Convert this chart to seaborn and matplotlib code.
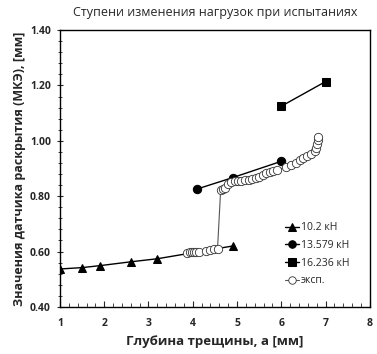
import matplotlib
matplotlib.use('Agg')
import matplotlib.pyplot as plt
from matplotlib.ticker import MultipleLocator
import seaborn as sns
import pandas as pd

# series
x_102 = [1.0, 1.5, 1.9, 2.6, 3.2, 4.9]
y_102 = [0.537, 0.542, 0.549, 0.563, 0.574, 0.620]

x_135 = [4.1, 4.9, 6.0]
y_135 = [0.826, 0.867, 0.926]

x_162 = [6.0, 7.0]
y_162 = [1.125, 1.214]

x_exp = [3.88, 3.93, 3.98, 4.03, 4.08, 4.13, 4.30, 4.38, 4.47, 4.56,
         4.63, 4.68, 4.73, 4.80, 4.87, 4.95, 5.03, 5.10, 5.18, 5.26,
         5.34, 5.42, 5.50, 5.58, 5.66, 5.74, 5.82, 5.90, 6.10, 6.22,
         6.34, 6.42, 6.50, 6.58, 6.66, 6.76, 6.79, 6.80, 6.82, 6.83]
y_exp = [0.596, 0.597, 0.597, 0.597, 0.598, 0.598, 0.602, 0.605, 0.608, 0.611,
         0.822, 0.826, 0.830, 0.845, 0.851, 0.854, 0.855, 0.856, 0.858, 0.860,
         0.862, 0.865, 0.870, 0.876, 0.882, 0.886, 0.890, 0.894, 0.905, 0.912,
         0.920, 0.930, 0.938, 0.945, 0.952, 0.962, 0.975, 0.990, 1.002, 1.014]

labels = ['10.2 кН', '13.579 кН', '16.236 кН', 'эксп.']

sns.set_style('ticks')
plt.rcParams['font.family'] = ['Open Sans', 'DejaVu Sans']

fig = plt.figure(figsize=(3.77, 3.54), dpi=100)
ax = fig.add_axes([0.159, 0.133, 0.822, 0.782])

sns.lineplot(x=x_102, y=y_102, ax=ax, color='black', lw=1, marker='^',
             markersize=6, markeredgecolor='black', label=labels[0], estimator=None)
sns.lineplot(x=x_135, y=y_135, ax=ax, color='black', lw=1, marker='o',
             markersize=6, markeredgecolor='black', label=labels[1], estimator=None)
sns.lineplot(x=x_162, y=y_162, ax=ax, color='black', lw=1, marker='s',
             markersize=6, markeredgecolor='black', label=labels[2], estimator=None)
sns.lineplot(x=x_exp, y=y_exp, ax=ax, color='#555555', lw=0.8, marker='o',
             markersize=6, markerfacecolor='white', markeredgecolor='#333333',
             markeredgewidth=0.6, label=labels[3], estimator=None, sort=False)

ax.set_xlim(1, 8)
ax.set_ylim(0.4, 1.4)
ax.xaxis.set_major_locator(MultipleLocator(1))
ax.xaxis.set_minor_locator(MultipleLocator(0.2))
ax.yaxis.set_major_locator(MultipleLocator(0.2))
ax.yaxis.set_minor_locator(MultipleLocator(0.04))
ax.yaxis.set_major_formatter(plt.FormatStrFormatter('%.2f'))
ax.tick_params(axis='x', which='both', direction='in', labelsize=7.5, pad=8)
ax.tick_params(axis='x', which='major', length=4, width=0.8)
ax.tick_params(axis='x', which='minor', length=3, width=0.6)
ax.tick_params(axis='y', which='both', direction='inout', labelsize=7.5, pad=4)
ax.tick_params(axis='y', which='major', length=5, width=0.8)
ax.tick_params(axis='y', which='minor', length=3, width=0.6)
for lbl in ax.get_xticklabels() + ax.get_yticklabels():
    lbl.set_fontweight('bold')
for sp in ax.spines.values():
    sp.set_color('black')
    sp.set_linewidth(1)

ax.set_title('Ступени изменения нагрузок при испытаниях', fontsize=9, pad=10)
ax.set_xlabel('Глубина трещины, а [мм]', fontsize=9.5, fontweight='bold', labelpad=4)
ax.set_ylabel('Значения датчика раскрытия (МКЭ), [мм]', fontsize=9,
              fontweight='bold', labelpad=3)

ax.legend(loc='lower right', bbox_to_anchor=(0.965, 0.04), frameon=False,
          fontsize=7.5, handlelength=1.3, handletextpad=0.2, labelspacing=0.65,
          markerscale=0.9)

fig.savefig('out.png', dpi=100)
